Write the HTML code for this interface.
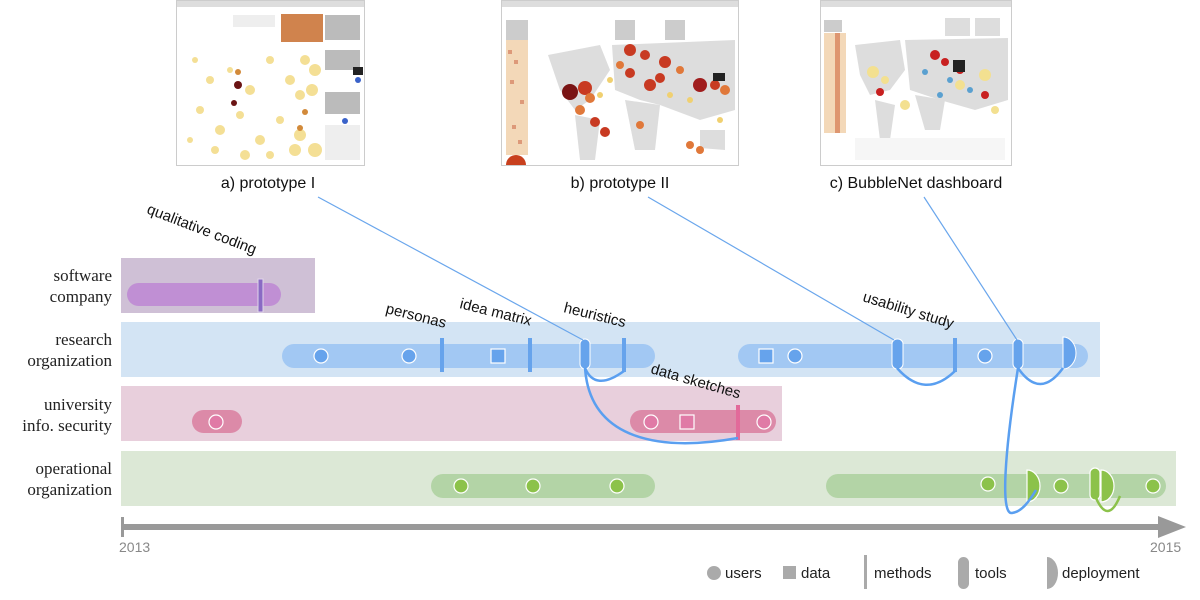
<!DOCTYPE html>
<html><head><meta charset="utf-8"><style>
html,body{margin:0;padding:0;background:#fff;width:1200px;height:600px;overflow:hidden}
svg{display:block}
.ll{font-family:"Liberation Serif",serif;font-size:17px;fill:#222;text-anchor:end}
.ml{font-family:"Liberation Sans",sans-serif;font-size:15px;fill:#111}
.cap{font-family:"Liberation Sans",sans-serif;font-size:16px;fill:#111;text-anchor:middle}
.lg{font-family:"Liberation Sans",sans-serif;font-size:15px;fill:#222}
.ax{font-family:"Liberation Sans",sans-serif;font-size:14px;fill:#888}
</style></head><body>
<svg width="1200" height="600" viewBox="0 0 1200 600" xmlns="http://www.w3.org/2000/svg">
<!-- screenshot a -->
<g>
<rect x="176.5" y="0.5" width="188" height="165" fill="#fff" stroke="#ccc"/>
<rect x="177" y="1" width="187" height="6" fill="#ddd"/>
<rect x="233" y="15" width="42" height="12" fill="#eee"/>
<rect x="281" y="14" width="42" height="28" fill="#d9955a"/>
<rect x="281" y="14" width="42" height="28" fill="#c4683a" opacity="0.4"/>
<rect x="325" y="15" width="35" height="25" fill="#bbb"/>
<rect x="325" y="50" width="35" height="20" fill="#bbb"/>
<rect x="325" y="92" width="35" height="22" fill="#bbb"/>
<rect x="325" y="125" width="35" height="35" fill="#eee"/>
<g fill="#f3dc8a" opacity="0.9">
<circle cx="195" cy="60" r="3"/><circle cx="210" cy="80" r="4"/><circle cx="230" cy="70" r="3"/><circle cx="250" cy="90" r="5"/><circle cx="270" cy="60" r="4"/><circle cx="290" cy="80" r="5"/><circle cx="305" cy="60" r="5"/><circle cx="315" cy="70" r="6"/><circle cx="312" cy="90" r="6"/><circle cx="300" cy="95" r="5"/><circle cx="200" cy="110" r="4"/><circle cx="220" cy="130" r="5"/><circle cx="240" cy="115" r="4"/><circle cx="260" cy="140" r="5"/><circle cx="280" cy="120" r="4"/><circle cx="300" cy="135" r="6"/><circle cx="315" cy="150" r="7"/><circle cx="295" cy="150" r="6"/><circle cx="215" cy="150" r="4"/><circle cx="245" cy="155" r="5"/><circle cx="270" cy="155" r="4"/><circle cx="190" cy="140" r="3"/>
</g>
<g fill="#d28a3a"><circle cx="238" cy="72" r="3"/><circle cx="305" cy="112" r="3"/><circle cx="300" cy="128" r="3"/></g>
<g fill="#6a1414"><circle cx="238" cy="85" r="4"/><circle cx="234" cy="103" r="3"/></g>
<g fill="#3a62c9"><circle cx="358" cy="80" r="3"/><circle cx="345" cy="121" r="3"/></g>
<rect x="353" y="67" width="10" height="8" fill="#222"/>
</g>
<!-- screenshot b -->
<g>
<rect x="501.5" y="0.5" width="237" height="165" fill="#fff" stroke="#ccc"/>
<rect x="502" y="1" width="236" height="6" fill="#ddd"/>
<rect x="506" y="20" width="22" height="20" fill="#ccc"/>
<rect x="506" y="40" width="22" height="115" fill="#f3d8b8"/>
<g fill="#d07050" opacity="0.6"><rect x="508" y="50" width="4" height="4"/><rect x="514" y="60" width="4" height="4"/><rect x="510" y="80" width="4" height="4"/><rect x="520" y="100" width="4" height="4"/><rect x="512" y="125" width="4" height="4"/><rect x="518" y="140" width="4" height="4"/></g>
<rect x="615" y="20" width="20" height="20" fill="#ccc"/><rect x="665" y="20" width="20" height="20" fill="#ccc"/>
<path d="M548 55 L600 45 L610 70 L590 100 L575 110 L560 90 Z" fill="#ddd"/>
<path d="M575 115 L600 120 L595 160 L580 160 Z" fill="#ddd"/>
<path d="M612 45 L735 40 L735 110 L700 120 L660 105 L640 100 L615 90 Z" fill="#ddd"/>
<path d="M625 100 L660 105 L655 150 L635 150 Z" fill="#ddd"/>
<path d="M700 130 L725 130 L725 150 L700 148 Z" fill="#ddd"/>
<g fill="#c83a22"><circle cx="585" cy="88" r="7"/><circle cx="570" cy="92" r="8" fill="#7a1414"/><circle cx="630" cy="50" r="6"/><circle cx="645" cy="55" r="5"/><circle cx="665" cy="62" r="6"/><circle cx="630" cy="73" r="5"/><circle cx="650" cy="85" r="6"/><circle cx="700" cy="85" r="7" fill="#a01d1d"/><circle cx="715" cy="85" r="5"/><circle cx="660" cy="78" r="5"/><circle cx="595" cy="122" r="5"/><circle cx="605" cy="132" r="5"/></g>
<g fill="#e0783a"><circle cx="580" cy="110" r="5"/><circle cx="590" cy="98" r="5"/><circle cx="620" cy="65" r="4"/><circle cx="680" cy="70" r="4"/><circle cx="725" cy="90" r="5"/><circle cx="690" cy="145" r="4"/><circle cx="700" cy="150" r="4"/><circle cx="640" cy="125" r="4"/></g>
<g fill="#f0d070"><circle cx="610" cy="80" r="3"/><circle cx="670" cy="95" r="3"/><circle cx="690" cy="100" r="3"/><circle cx="720" cy="120" r="3"/><circle cx="600" cy="95" r="3"/></g>
<rect x="713" y="73" width="12" height="8" fill="#222"/>
<path d="M506 165 A10 10 0 0 1 526 165 Z" fill="#c8401e"/>
</g>
<!-- screenshot c -->
<g>
<rect x="820.5" y="0.5" width="191" height="165" fill="#fff" stroke="#ccc"/>
<rect x="821" y="1" width="190" height="6" fill="#ddd"/>
<rect x="824" y="20" width="18" height="12" fill="#ccc"/>
<rect x="824" y="33" width="22" height="100" fill="#f3d8b8"/>
<rect x="835" y="33" width="5" height="100" fill="#d06a40" opacity="0.6"/>
<rect x="945" y="18" width="25" height="18" fill="#ddd"/><rect x="975" y="18" width="25" height="18" fill="#ddd"/>
<path d="M855 45 L900 40 L905 70 L890 90 L870 95 L860 75 Z" fill="#ddd"/>
<path d="M875 100 L895 105 L890 140 L880 140 Z" fill="#ddd"/>
<path d="M905 40 L1008 38 L1008 100 L975 110 L940 100 L910 90 Z" fill="#ddd"/>
<path d="M915 95 L945 100 L940 130 L925 130 Z" fill="#ddd"/>
<rect x="855" y="138" width="150" height="22" fill="#f6f6f6"/>
<g fill="#f3e090"><circle cx="873" cy="72" r="6"/><circle cx="885" cy="80" r="4"/><circle cx="960" cy="85" r="5"/><circle cx="985" cy="75" r="6"/><circle cx="905" cy="105" r="5"/><circle cx="995" cy="110" r="4"/></g>
<g fill="#c82020"><circle cx="935" cy="55" r="5"/><circle cx="945" cy="62" r="4"/><circle cx="960" cy="70" r="4"/><circle cx="985" cy="95" r="4"/><circle cx="880" cy="92" r="4"/></g>
<g fill="#5aa0d0"><circle cx="925" cy="72" r="3"/><circle cx="950" cy="80" r="3"/><circle cx="970" cy="90" r="3"/><circle cx="940" cy="95" r="3"/></g>
<rect x="953" y="60" width="12" height="12" fill="#222"/>
</g>
<text class="cap" x="268" y="188">a) prototype I</text>
<text class="cap" x="620" y="188">b) prototype II</text>
<text class="cap" x="916" y="188">c) BubbleNet dashboard</text>

<!-- lane backgrounds -->
<rect x="121" y="258" width="194" height="55" fill="#cfc0d6"/>
<rect x="121" y="322" width="979" height="55" fill="#d3e4f4"/>
<rect x="121" y="386" width="661" height="55" fill="#e8cfdc"/>
<rect x="121" y="451" width="1055" height="55" fill="#dce8d6"/>

<text class="ll"><tspan x="112" y="281">software</tspan><tspan x="112" y="302">company</tspan></text>
<text class="ll"><tspan x="112" y="345">research</tspan><tspan x="112" y="366">organization</tspan></text>
<text class="ll"><tspan x="112" y="410">university</tspan><tspan x="112" y="431">info. security</tspan></text>
<text class="ll"><tspan x="112" y="474">operational</tspan><tspan x="112" y="495">organization</tspan></text>

<!-- bars -->
<rect x="127" y="283" width="154" height="23" rx="11.5" fill="#c08fd4"/>
<rect x="282" y="344" width="373" height="24" rx="12" fill="#a2c8f3"/>
<rect x="738" y="344" width="350" height="24" rx="12" fill="#a2c8f3"/>
<rect x="192" y="410" width="50" height="23" rx="11.5" fill="#dc8aa8"/>
<rect x="630" y="410" width="146" height="23" rx="11.5" fill="#dc8aa8"/>
<rect x="431" y="474" width="224" height="24" rx="12" fill="#b3d4a6"/>
<rect x="826" y="474" width="340" height="24" rx="12" fill="#b3d4a6"/>

<!-- software method -->
<rect x="258" y="279" width="5" height="33" fill="#8a6ac4" stroke="#e0d4ea" stroke-width="1"/>

<!-- research items -->
<g stroke="#fff" stroke-width="1.2" fill="#66a3ec">
<circle cx="321" cy="356" r="7"/><circle cx="409" cy="356" r="7"/>
<rect x="491" y="349" width="14" height="14"/>
<circle cx="795" cy="356" r="7"/><rect x="759" y="349" width="14" height="14"/>
<circle cx="985" cy="356" r="7"/>
</g>
<g fill="#66a3ec">
<rect x="440" y="338" width="4" height="34"/><rect x="528" y="338" width="4" height="34"/><rect x="622" y="338" width="4" height="34"/>
<rect x="953" y="338" width="4" height="34"/>
<rect x="580" y="339" width="10" height="30" rx="5" stroke="#fff"/>
<rect x="892" y="339" width="11" height="30" rx="5" stroke="#fff"/>
<rect x="1013" y="339" width="10" height="30" rx="5" stroke="#fff"/>
<path d="M1063 337 A13 16 0 0 1 1063 369 Z" stroke="#fff"/>
</g>

<!-- university items -->
<g stroke="#fff" stroke-width="1.2" fill="#e07aa6">
<circle cx="216" cy="422" r="7"/><circle cx="651" cy="422" r="7"/><rect x="680" y="415" width="14" height="14"/><circle cx="764" cy="422" r="7"/>
</g>
<rect x="736" y="405" width="4" height="35" fill="#e26a9a"/>

<!-- operational items -->
<g stroke="#fff" stroke-width="1.2" fill="#8cc24a">
<circle cx="461" cy="486" r="7"/><circle cx="533" cy="486" r="7"/><circle cx="617" cy="486" r="7"/>
<circle cx="988" cy="484" r="7"/><circle cx="1061" cy="486" r="7"/><circle cx="1153" cy="486" r="7"/>
<path d="M1027 470 A13 16 0 0 1 1027 502 Z"/>
<rect x="1090" y="468" width="10" height="32" rx="5"/>
<path d="M1101 470 A13 16 0 0 1 1101 502 Z"/>
</g>

<!-- connectors -->
<g fill="none" stroke="#6aa6ec" stroke-width="1.2">
<line x1="318" y1="197" x2="583" y2="340"/>
<line x1="648" y1="197" x2="894" y2="340"/>
<line x1="924" y1="197" x2="1017" y2="340"/>
</g>
<g fill="none" stroke="#5a9ff0" stroke-width="2.5">
<path d="M585 368 Q595 392 624 371"/>
<path d="M585 368 C590 440 660 452 738 438"/>
<path d="M897 368 Q925 400 955 371"/>
<path d="M1018 368 Q1040 400 1063 368"/>
<path d="M1018 368 C1005 450 1000 515 1012 513 C1022 512 1030 500 1036 490"/>
</g>
<path d="M1096 498 Q1108 525 1120 496" fill="none" stroke="#8cc24a" stroke-width="2.5"/>

<!-- method labels -->
<text class="ml" transform="translate(146,213) rotate(21)">qualitative coding</text>
<text class="ml" transform="translate(385,313) rotate(14)">personas</text>
<text class="ml" transform="translate(459,308) rotate(14)">idea matrix</text>
<text class="ml" transform="translate(563,312) rotate(14)">heuristics</text>
<text class="ml" transform="translate(650,373) rotate(16)">data sketches</text>
<text class="ml" transform="translate(862,301) rotate(17)">usability study</text>

<!-- axis -->
<rect x="123" y="524" width="1040" height="6" fill="#999"/>
<path d="M1158 516 L1186 527 L1158 538 Z" fill="#999"/>
<rect x="121" y="517" width="3" height="20" fill="#999"/>
<text class="ax" x="119" y="552">2013</text>
<text class="ax" x="1150" y="552">2015</text>

<!-- legend -->
<circle cx="714" cy="573" r="7" fill="#aaa"/>
<text class="lg" x="725" y="578">users</text>
<rect x="783" y="566" width="13" height="13" fill="#aaa"/>
<text class="lg" x="801" y="578">data</text>
<rect x="864" y="555" width="3" height="34" fill="#aaa"/>
<text class="lg" x="874" y="578">methods</text>
<rect x="958" y="557" width="11" height="32" rx="5.5" fill="#aaa"/>
<text class="lg" x="975" y="578">tools</text>
<path d="M1047 557 A11 16 0 0 1 1047 589 Z" fill="#aaa"/>
<text class="lg" x="1062" y="578">deployment</text>
</svg>
</body></html>
